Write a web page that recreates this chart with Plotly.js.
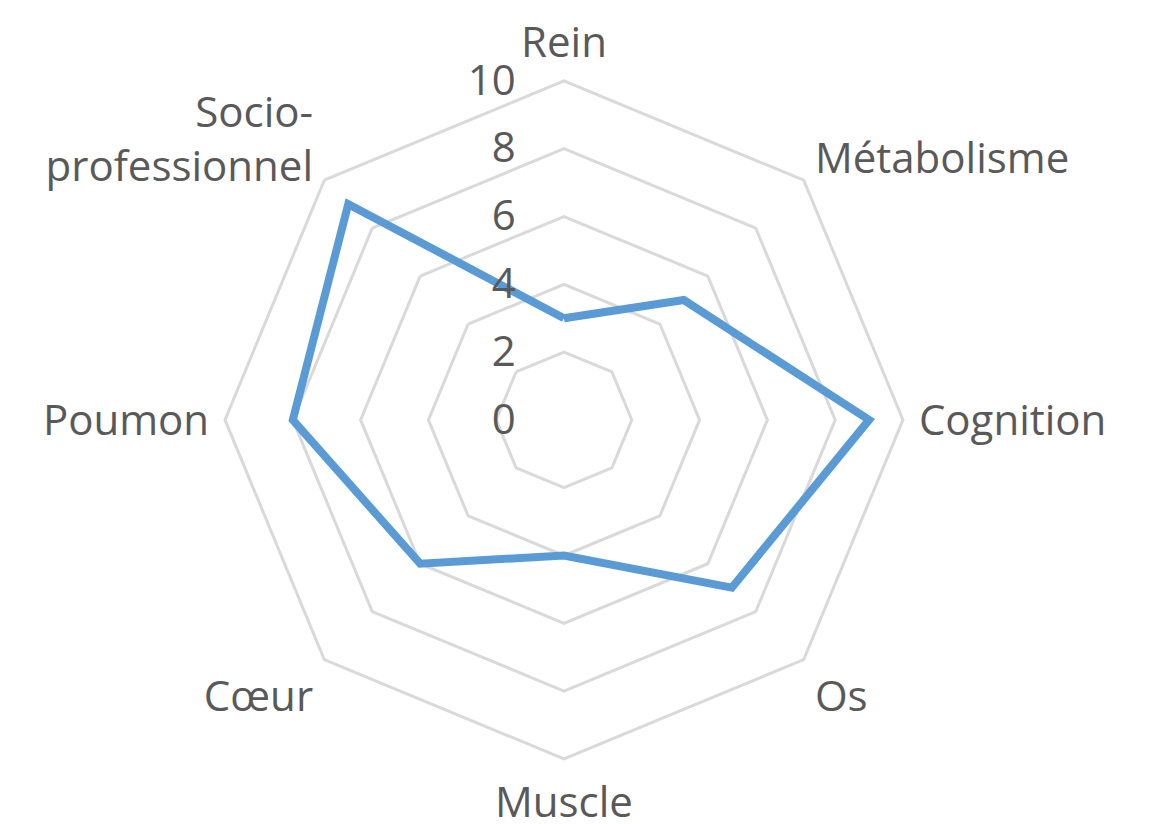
<!DOCTYPE html>
<html>
<head>
<meta charset="utf-8">
<script src="https://cdn.plot.ly/plotly-3.0.1.min.js"></script>
<style>html,body{margin:0;padding:0;background:#fff;}#chart{width:1153px;height:824px;}</style>
</head>
<body>
<div id="chart"></div>
<script>
const categories = ["Rein", "Métabolisme", "Cognition", "Os", "Muscle", "Cœur", "Poumon", "Socio-<br>professionnel"];
const values = [3, 5, 9, 7, 4, 6, 8, 9];
const tickValues = [0, 2, 4, 6, 8, 10];
const tickLabels = ["0", "2", "4", "6", "8", "10"];

const trace = {
  type: "scatterpolar",
  mode: "lines",
  r: values.concat([values[0]]),
  theta: categories.concat([categories[0]]),
  line: {color: "#5B9BD5", width: 8},
  hoverinfo: "skip"
};

const layout = {
  width: 1153, height: 824,
  margin: {l: 0, r: 0, t: 0, b: 0},
  paper_bgcolor: "#ffffff",
  showlegend: false,
  font: {family: "Open Sans, sans-serif", size: 42, color: "#595959"},
  polar: {
    domain: {x: [0.19514, 0.78317], y: [0.0790, 0.9018]},
    bgcolor: "#ffffff",
    gridshape: "linear",
    radialaxis: {
      range: [0, 10],
      tickvals: tickValues,
      ticktext: tickLabels,
      angle: 90,
      tickangle: 90,
      side: "counterclockwise",
      showline: false,
      gridcolor: "#D9D9D9",
      gridwidth: 3,
      ticks: "outside",
      ticklen: 33,
      tickcolor: "rgba(0,0,0,0)",
      tickfont: {size: 42, color: "#595959", family: "Open Sans, sans-serif"}
    },
    angularaxis: {
      direction: "clockwise",
      rotation: 90,
      showgrid: false,
      showline: true,
      linecolor: "#D9D9D9",
      linewidth: 3,
      ticks: "outside",
      ticklen: 6,
      tickcolor: "rgba(0,0,0,0)",
      tickfont: {size: 42, color: "#595959", family: "Open Sans, sans-serif"}
    }
  }
};

Plotly.newPlot("chart", [trace], layout, {displayModeBar: false, staticPlot: true});
</script>
</body>
</html>
